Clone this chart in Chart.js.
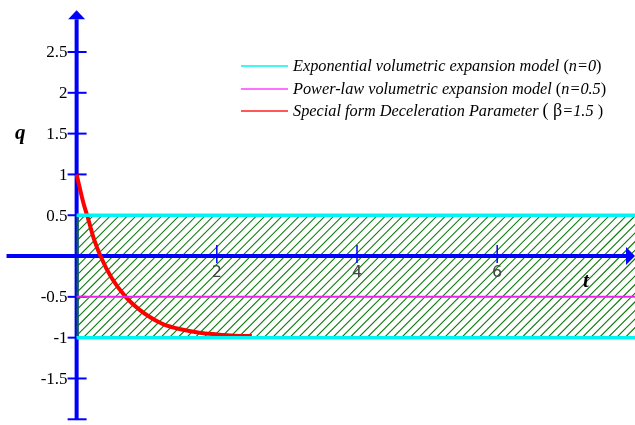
<!DOCTYPE html>
<html>
<head>
<meta charset="utf-8">
<script src="https://cdn.jsdelivr.net/npm/chart.js@4"></script>
<style>
  html, body { margin: 0; padding: 0; background: #fff; }
  #wrap { width: 635px; height: 425px; position: relative; }
</style>
</head>
<body>
<div id="wrap"><canvas id="qChart"></canvas></div>
<script>
// q(t)
const tValues = [0, 0.1, 0.15, 0.25, 0.34, 0.5, 0.7, 0.9, 1.05, 1.25, 1.5, 1.75, 2.0, 2.25, 2.5];
const qSpecial = [1, 0.64, 0.5, 0.2, 0, -0.27, -0.5, -0.66, -0.75, -0.84, -0.9, -0.94, -0.96, -0.975, -0.98];

// horizontal model lines
const lineX = [0, 8];
const qExponential = [0.5, -1];
const qPowerLaw = -0.5;

// hatched band between the two exponential bounds
const bandTop = 0.5;
const bandBottom = -1;

// tick labels
const yTicks = [2.5, 2, 1.5, 1, 0.5, -0.5, -1, -1.5];
const yTickLabels = ['2.5', '2', '1.5', '1', '0.5', '-0.5', '-1', '-1.5'];
const xTicks = [2, 4, 6];
const xTickLabels = ['2', '4', '6'];

const legendLabels = [
  ['Exponential volumetric expansion model ', '(', 'n=0', ')'],
  ['Power-law volumetric expansion model ', '(', 'n=0.5', ')'],
  ['Special form Deceleration Parameter ', '( \u03b2', '=1.5', ' )']
];
const legendColors = ['#00f4f4', '#ff40ff', '#ff2020'];

const blue = '#0000ff';

const axesPlugin = {
  id: 'maplePlot',
  beforeDatasetsDraw(chart) {
    const c = chart.ctx;
    const xs = chart.scales.x, ys = chart.scales.y;
    const x0 = xs.getPixelForValue(0);
    const y0 = ys.getPixelForValue(0);
    c.save();

    // y axis
    c.strokeStyle = blue;
    c.lineWidth = 4;
    c.beginPath();
    c.moveTo(x0, ys.getPixelForValue(-2));
    c.lineTo(x0, ys.getPixelForValue(2.9));
    c.stroke();
    c.fillStyle = blue;
    const tipY = ys.getPixelForValue(3.01);
    c.beginPath();
    c.moveTo(x0, tipY);
    c.lineTo(x0 - 8.5, tipY + 9);
    c.lineTo(x0 + 8.5, tipY + 9);
    c.closePath();
    c.fill();
    c.lineWidth = 2;
    yTicks.concat([-2]).forEach(v => {
      const py = ys.getPixelForValue(v);
      c.beginPath();
      c.moveTo(x0 - 9, py);
      c.lineTo(x0 + 10, py);
      c.stroke();
    });

    // hatch band
    const top = ys.getPixelForValue(bandTop);
    const bot = ys.getPixelForValue(bandBottom);
    const right = chart.width;
    c.save();
    c.beginPath();
    c.rect(x0, top, right - x0, bot - top);
    c.clip();
    c.strokeStyle = '#0a7a0a';
    c.lineWidth = 1.1;
    const h = bot - top;
    for (let sx = x0 - h; sx < right + 10; sx += 8.6) {
      c.beginPath();
      c.moveTo(sx, bot);
      c.lineTo(sx + h, top);
      c.stroke();
    }
    c.restore();
    c.strokeStyle = '#0a6a2a';
    c.lineWidth = 2;
    c.beginPath();
    c.moveTo(x0 + 1, top);
    c.lineTo(x0 + 1, bot);
    c.stroke();

    // x axis
    c.strokeStyle = blue;
    c.lineWidth = 4;
    c.beginPath();
    c.moveTo(xs.getPixelForValue(-1), y0);
    c.lineTo(chart.width - 6, y0);
    c.stroke();
    c.beginPath();
    c.moveTo(chart.width, y0);
    c.lineTo(chart.width - 9, y0 - 9);
    c.lineTo(chart.width - 9, y0 + 9);
    c.closePath();
    c.fill();
    c.lineWidth = 1.5;
    xTicks.forEach(v => {
      const px = xs.getPixelForValue(v);
      c.beginPath();
      c.moveTo(px, y0 - 11);
      c.lineTo(px, y0 + 7);
      c.stroke();
    });
    c.restore();
  },
  afterDraw(chart) {
    const c = chart.ctx;
    const xs = chart.scales.x, ys = chart.scales.y;
    const x0 = xs.getPixelForValue(0);
    const y0 = ys.getPixelForValue(0);
    c.save();

    // y tick labels
    c.fillStyle = '#000';
    c.font = '17px "Liberation Serif", "Times New Roman", serif';
    c.textAlign = 'right';
    c.textBaseline = 'middle';
    yTicks.forEach((v, i) => {
      c.fillText(yTickLabels[i], x0 - 9, ys.getPixelForValue(v) + 1);
    });

    // x tick labels
    c.fillStyle = '#444';
    c.font = '16px "DejaVu Sans", sans-serif';
    c.textAlign = 'center';
    c.textBaseline = 'top';
    xTicks.forEach((v, i) => {
      c.fillText(xTickLabels[i], xs.getPixelForValue(v), y0 + 9);
    });

    // axis titles
    c.fillStyle = '#000';
    c.font = 'italic bold 21px "Liberation Serif", serif';
    c.textAlign = 'left';
    c.textBaseline = 'alphabetic';
    c.fillText('q', 15, 139);
    c.fillText('t', 583, 287);

    // legend
    const lx = 241, tx = 293;
    const rows = [66, 89, 111];
    legendLabels.forEach((parts, i) => {
      const y = rows[i];
      c.strokeStyle = legendColors[i];
      c.lineWidth = 1.5;
      c.beginPath();
      c.moveTo(lx, y);
      c.lineTo(lx + 47, y);
      c.stroke();
      let x = tx;
      parts.forEach((p, j) => {
        const upright = (j === 1 || j === 3);
        c.font = (upright ? '' : 'italic ') + '16.3px "Liberation Serif", serif';
        if (i === 2 && j === 1) c.font = '18px "Liberation Serif", serif';
        c.fillStyle = '#000';
        c.fillText(p, x, y + 5);
        x += c.measureText(p).width;
      });
    });
    c.restore();
  }
};

const pts = (xsArr, ysArr) => xsArr.map((x, i) => ({ x: x, y: ysArr[i] }));

new Chart(document.getElementById('qChart'), {
  type: 'scatter',
  data: {
    datasets: [
      {
        label: 'Exponential volumetric expansion model (n=0)',
        data: pts(lineX, [qExponential[0], qExponential[0]]),
        showLine: true, borderColor: '#00f4f4', borderWidth: 3.5, pointRadius: 0
      },
      {
        label: 'Exponential lower bound',
        data: pts(lineX, [qExponential[1], qExponential[1]]),
        showLine: true, borderColor: '#00f4f4', borderWidth: 3.5, pointRadius: 0
      },
      {
        label: 'Power-law volumetric expansion model (n=0.5)',
        data: pts(lineX, [qPowerLaw, qPowerLaw]),
        showLine: true, borderColor: '#ee22ee', borderWidth: 2, pointRadius: 0
      },
      {
        label: 'Special form Deceleration Parameter (β=1.5)',
        data: pts(tValues, qSpecial),
        showLine: true, borderColor: '#ff0000', borderWidth: 4, pointRadius: 0,
        cubicInterpolationMode: 'monotone'
      }
    ]
  },
  options: {
    responsive: true,
    maintainAspectRatio: false,
    animation: false,
    layout: { padding: 0 },
    scales: {
      x: { type: 'linear', min: -1.093, max: 7.966, display: false },
      y: { type: 'linear', min: -2.07, max: 3.137, display: false }
    },
    plugins: {
      legend: { display: false },
      tooltip: { enabled: false }
    }
  },
  plugins: [axesPlugin]
});
</script>
</body>
</html>
